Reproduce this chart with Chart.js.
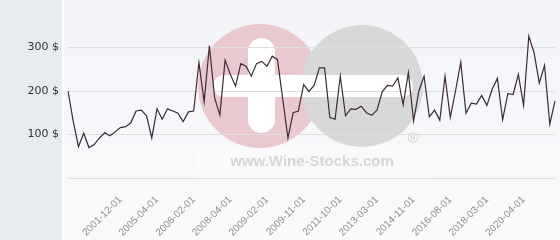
<!DOCTYPE html>
<html>
<head>
<meta charset="utf-8">
<script src="https://cdn.jsdelivr.net/npm/chart.js@4.4.1/dist/chart.umd.min.js"></script>
<style>
    html, body { margin: 0; padding: 0; }
    #wrap {
        width: 560px;
        height: 240px;
        background:
            linear-gradient(to right, #e8ebee 0, #e8ebee 62px, #ffffff 62px, #ffffff 64px, rgba(255,255,255,0) 64px),
            linear-gradient(to bottom, #f3f4f8, #fafafc);
    }
    canvas { display: block; }
</style>
</head>
<body>
<div id="wrap"><canvas id="myChart" width="560" height="240"></canvas></div>
<script>
// price per bottle, one value per quote
const prices = [
    200, 130, 72, 103, 70, 77, 92, 104, 97, 106,
    116, 118, 127, 154, 156, 143, 92, 159, 135, 159,
    154, 149, 130, 152, 154, 265, 175, 304, 184, 145,
    271, 238, 211, 263, 257, 234, 263, 268, 257, 280,
    272, 182, 92, 150, 154, 215, 199, 213, 253, 253,
    139, 135, 234, 143, 159, 158, 165, 150, 144, 156,
    198, 213, 211, 230, 168, 242, 131, 200, 234, 141,
    156, 133, 234, 139, 200, 266, 149, 172, 170, 190,
    167, 204, 229, 134, 194, 192, 238, 167, 326, 288,
    218, 259, 124, 177
];

// dates printed under the axis
const tickLabels = [
    '2001-12-01', '2005-04-01', '2006-02-01', '2008-04-01',
    '2009-02-01', '2009-11-01', '2011-10-01', '2013-03-01',
    '2014-11-01', '2016-08-01', '2018-03-01', '2020-04-01'
];

const yTicks = [100, 200, 300];

// which quote carries the first printed date, and how many quotes between dates
const firstLabelAt = 10;
const labelEvery = 7;

const categories = prices.map((_, i) => {
    const k = (i - firstLabelAt) / labelEvery;
    return (k >= 0 && Number.isInteger(k) && k < tickLabels.length) ? tickLabels[k] : '';
});

// background logo, drawn before the grid
const watermark = {
    id: 'watermark',
    beforeDraw(chart) {
        const c = chart.ctx;
        c.save();
        c.fillStyle = 'rgba(255,255,255,0.25)';
        c.fillRect(197, 146, 230, 32);

        c.fillStyle = '#eac8cf';
        c.beginPath();
        c.arc(260, 86, 62, 0, Math.PI * 2);
        c.fill();

        c.fillStyle = '#d8d8d9';
        c.beginPath();
        c.arc(362, 86, 61, 0, Math.PI * 2);
        c.fill();

        c.fillStyle = '#ffffff';
        c.beginPath();
        c.roundRect(213, 75, 200, 22, 11);
        c.fill();
        c.beginPath();
        c.roundRect(248, 38, 27, 95, 13.5);
        c.fill();

        c.fillStyle = '#d6d6d6';
        c.font = 'bold 15px "Liberation Sans", Arial, sans-serif';
        c.textAlign = 'center';
        c.textBaseline = 'alphabetic';
        c.fillText('www.Wine-Stocks.com', 312, 166);

        c.fillStyle = '#cfcfcf';
        c.font = '14px "Liberation Sans", Arial, sans-serif';
        c.textBaseline = 'middle';
        c.fillText('®', 413, 139);
        c.restore();
    }
};

document.addEventListener('DOMContentLoaded', () => {
    const ctx = document.getElementById('myChart').getContext('2d');

    new Chart(ctx, {
        type: 'line',
        data: {
            labels: categories,
            datasets: [{
                data: prices,
                borderColor: '#3b2a35',
                borderWidth: 1.2,
                pointRadius: 0,
                tension: 0,
                fill: false
            }]
        },
        options: {
            responsive: false,
            devicePixelRatio: 1,
            animation: false,
            layout: { padding: { top: 4, right: 5, left: 0, bottom: 0 } },
            plugins: {
                legend: { display: false },
                tooltip: { enabled: false }
            },
            scales: {
                x: {
                    grid: { display: false },
                    border: { display: false },
                    ticks: {
                        autoSkip: false,
                        minRotation: 45,
                        maxRotation: 45,
                        padding: 8,
                        color: '#8f8f8f',
                        font: { family: '"Liberation Sans", Arial, sans-serif', size: 10 }
                    },
                    afterFit(scale) {
                        scale.height = 62;
                        scale.paddingLeft = 0;
                        scale.paddingRight = 0;
                    }
                },
                y: {
                    min: 0,
                    max: 400,
                    border: { display: false },
                    grid: {
                        drawTicks: false,
                        color: c => c.tick.value === 400 ? 'rgba(0,0,0,0)' : '#dedede'
                    },
                    ticks: {
                        stepSize: 100,
                        padding: 9,
                        color: '#333333',
                        font: { family: '"DejaVu Sans", sans-serif', size: 11 },
                        callback: v => yTicks.includes(v) ? v + ' $' : ''
                    },
                    afterFit(scale) {
                        scale.width = 68;
                        scale.paddingTop = 0;
                        scale.paddingBottom = 0;
                    }
                }
            }
        },
        plugins: [watermark]
    });
});
</script>
</body>
</html>
